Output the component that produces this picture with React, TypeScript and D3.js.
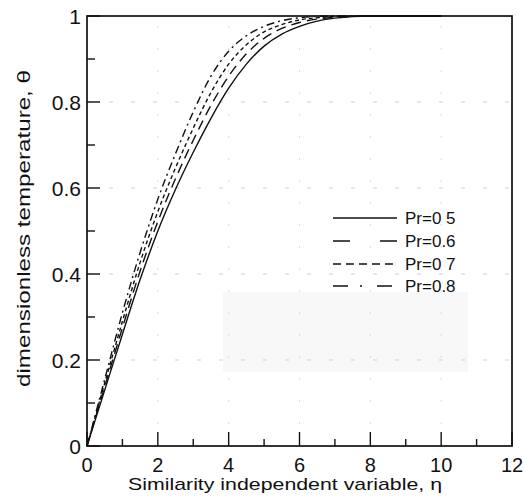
import React from "react";
import * as d3 from "d3";

const etaValues = [0, 0.5, 1, 1.5, 2, 2.5, 3, 3.5, 4, 4.5, 5, 5.5, 6, 6.5, 7, 8, 10];
const thetaPr05 = [0, 0.13, 0.26, 0.387, 0.5, 0.597, 0.683, 0.762, 0.832, 0.888, 0.93, 0.958, 0.976, 0.988, 0.995, 1, 1];
const thetaPr06 = [0, 0.138, 0.275, 0.407, 0.522, 0.622, 0.711, 0.792, 0.86, 0.912, 0.948, 0.971, 0.985, 0.993, 0.997, 1, 1];
const thetaPr07 = [0, 0.146, 0.29, 0.427, 0.545, 0.647, 0.739, 0.822, 0.888, 0.933, 0.963, 0.98, 0.991, 0.996, 0.999, 1, 1];
const thetaPr08 = [0, 0.155, 0.31, 0.45, 0.574, 0.68, 0.777, 0.86, 0.918, 0.954, 0.976, 0.989, 0.996, 0.999, 1, 1, 1];

const seriesLabels = ["Pr=0 5", "Pr=0.6", "Pr=0 7", "Pr=0.8"];
const xTicks = [0, 2, 4, 6, 8, 10, 12];
const xMinorTicks = [1, 3, 5, 7, 9, 11];
const yTicks = [0, 0.2, 0.4, 0.6, 0.8, 1];
const yTickLabels = ["0", "0.2", "0.4", "0.6", "0.8", "1"];
const yMinorTicks = [0.1, 0.3, 0.5, 0.7, 0.9];

const W = 525;
const H = 502;
const L = 87, R = 512, T = 16, B = 446;

export default function App() {
  const x = d3.scaleLinear().domain([0, 12]).range([L, R]);
  const y = d3.scaleLinear().domain([0, 1]).range([B, T]);
  const line = d3
    .line<[number, number]>()
    .x((d) => x(d[0]))
    .y((d) => y(d[1]))
    .curve(d3.curveMonotoneX);

  const series = [thetaPr05, thetaPr06, thetaPr07, thetaPr08];
  const curveDash = ["none", "10,6", "4,3", "8,4,2,4"];
  const legendDash = ["none", "17,30", "8,5", "15,12,2,15"];
  const legendY = [218, 241, 264, 286];
  const font = "'Liberation Sans', Arial, sans-serif";

  return (
    <div style={{ position: "absolute", left: 0, top: 0 }}>
      <svg width={W} height={H} style={{ display: "block", background: "#fff" }}>
        <rect x={223} y={292} width={245} height={80} fill="#f8f8f8" />
        {/* faint grid */}
        {yTicks.slice(1, 5).map((t) => (
          <line key={"gy" + t} x1={L} x2={R} y1={y(t)} y2={y(t)} stroke="#cfcfcf" strokeWidth={1} strokeDasharray="4,18" />
        ))}
        {xTicks.slice(1, 6).map((t) => (
          <line key={"gx" + t} x1={x(t)} x2={x(t)} y1={B} y2={T} stroke="#dadada" strokeWidth={1} strokeDasharray="2,20" />
        ))}
        {/* curves */}
        {series.map((s, i) => (
          <path
            key={"c" + i}
            d={line(etaValues.map((e, j) => [e, s[j]]) as [number, number][]) || ""}
            fill="none"
            stroke="#111"
            strokeWidth={1.4}
            strokeDasharray={curveDash[i]}
          />
        ))}
        {/* frame */}
        <rect x={L} y={T} width={R - L} height={B - T} fill="none" stroke="#111" strokeWidth={1.7} />
        {/* y ticks */}
        {yTicks.map((t) => (
          <line key={"yt" + t} x1={L} x2={L + 13} y1={y(t)} y2={y(t)} stroke="#111" strokeWidth={1.4} />
        ))}
        {yMinorTicks.map((t) => (
          <line key={"ym" + t} x1={L} x2={L + 8} y1={y(t)} y2={y(t)} stroke="#111" strokeWidth={1.4} />
        ))}
        {/* x ticks */}
        {xTicks.map((t) => (
          <line key={"xt" + t} x1={x(t)} x2={x(t)} y1={B} y2={B - 14} stroke="#111" strokeWidth={1.4} />
        ))}
        {xMinorTicks.map((t) => (
          <line key={"xm" + t} x1={x(t)} x2={x(t)} y1={B} y2={B - 7} stroke="#111" strokeWidth={1.4} />
        ))}
        {/* tick labels */}
        {yTicks.map((t, i) => (
          <text key={"yl" + t} x={L - 6} y={y(t)} dy="0.36em" textAnchor="end" fontFamily={font} fontSize={21} fill="#111">
            {yTickLabels[i]}
          </text>
        ))}
        {xTicks.map((t) => (
          <text key={"xl" + t} x={x(t)} y={472} textAnchor="middle" fontFamily={font} fontSize={20} fill="#111">
            {String(t)}
          </text>
        ))}
        {/* axis titles */}
        <text
          x={128}
          y={490}
          fontFamily={font}
          fontSize={17}
          fill="#111"
          textLength={314}
          lengthAdjust="spacingAndGlyphs"
        >
          Similarity independent variable, η
        </text>
        <text
          transform={`translate(30,387) rotate(-90)`}
          fontFamily={font}
          fontSize={19}
          fill="#111"
          textLength={317}
          lengthAdjust="spacingAndGlyphs"
        >
          dimensionless temperature, θ
        </text>
        {/* legend */}
        {seriesLabels.map((lab, i) => (
          <g key={"lg" + i}>
            <line x1={333} x2={397} y1={legendY[i]} y2={legendY[i]} stroke="#111" strokeWidth={1.5} strokeDasharray={legendDash[i]} />
            <text x={405} y={legendY[i]} dy="0.36em" fontFamily={font} fontSize={17} fill="#111">
              {lab}
            </text>
          </g>
        ))}
      </svg>
    </div>
  );
}
